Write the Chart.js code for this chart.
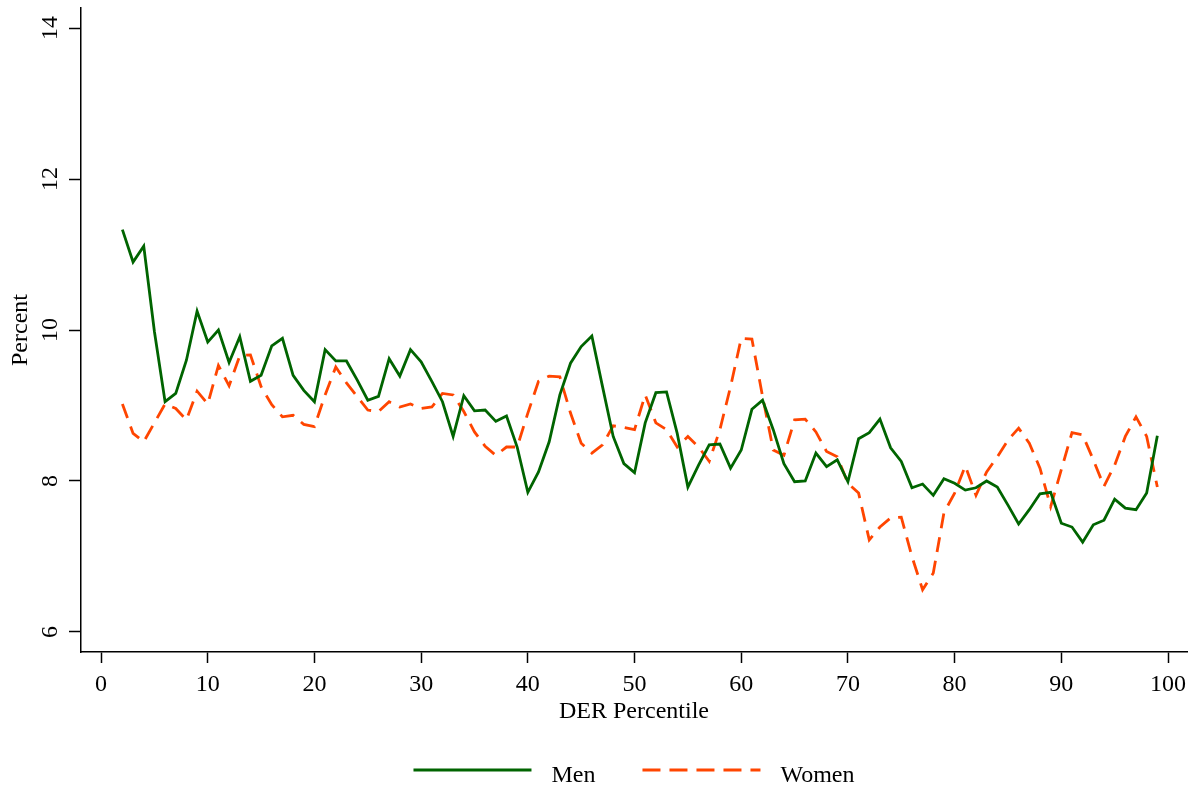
<!DOCTYPE html>
<html>
<head>
<meta charset="utf-8">
<script src="https://cdn.jsdelivr.net/npm/chart.js@4"></script>
<style>
  body { margin: 0; background: #fff; }
  #wrap { width: 1192px; height: 785px; }
</style>
</head>
<body>
<div id="wrap"><canvas id="chartDer" width="1192" height="785"></canvas></div>
<script>
// percentiles 2..99
const percentiles = [];
for (let p = 2; p <= 99; p++) percentiles.push(p);

const men = [
  11.33, 10.90, 11.11, 9.98, 9.05, 9.16, 9.60, 10.25, 9.84, 10.00,
  9.57, 9.91, 9.32, 9.40, 9.79, 9.89, 9.40, 9.20, 9.05, 9.74,
  9.59, 9.59, 9.34, 9.07, 9.12, 9.62, 9.39, 9.74, 9.58, 9.32,
  9.05, 8.59, 9.13, 8.93, 8.94, 8.79, 8.86, 8.45, 7.85, 8.12,
  8.52, 9.14, 9.56, 9.78, 9.92, 9.25, 8.59, 8.23, 8.11, 8.77,
  9.17, 9.18, 8.63, 7.92, 8.21, 8.48, 8.49, 8.17, 8.41, 8.95,
  9.07, 8.68, 8.23, 7.99, 8.00, 8.37, 8.19, 8.28, 7.99, 8.56,
  8.64, 8.82, 8.44, 8.26, 7.91, 7.96, 7.81, 8.03, 7.97, 7.88,
  7.91, 8.00, 7.92, 7.68, 7.43, 7.62, 7.83, 7.85, 7.44, 7.39,
  7.19, 7.42, 7.48, 7.76, 7.64, 7.62, 7.84, 8.60
];

const women = [
  9.02, 8.63, 8.52, 8.77, 9.02, 8.96, 8.81, 9.19, 9.02, 9.53,
  9.26, 9.66, 9.67, 9.25, 9.01, 8.85, 8.87, 8.75, 8.72, 9.14,
  9.51, 9.30, 9.12, 8.94, 8.92, 9.05, 8.98, 9.02, 8.96, 8.98,
  9.16, 9.14, 8.92, 8.65, 8.46, 8.34, 8.45, 8.45, 8.90, 9.32,
  9.39, 9.38, 8.90, 8.50, 8.37, 8.48, 8.73, 8.71, 8.68, 9.14,
  8.77, 8.68, 8.45, 8.59, 8.45, 8.26, 8.68, 9.25, 9.89, 9.88,
  9.12, 8.41, 8.34, 8.81, 8.82, 8.65, 8.39, 8.32, 7.97, 7.84,
  7.22, 7.39, 7.51, 7.52, 7.00, 6.56, 6.78, 7.58, 7.84, 8.20,
  7.81, 8.12, 8.32, 8.54, 8.70, 8.50, 8.17, 7.66, 8.15, 8.64,
  8.61, 8.28, 7.93, 8.21, 8.59, 8.85, 8.59, 7.92
];

const xTicks = [0, 10, 20, 30, 40, 50, 60, 70, 80, 90, 100];
const yTicks = [6, 8, 10, 12, 14];

const serif = '"Liberation Serif", "Times New Roman", serif';
const verde = 'rgb(0, 100, 0)';
const naranja = 'rgb(255, 69, 0)';

// leyenda dibujada a mano (linea + texto), centrada en el area del grafico
const leyenda = {
  id: 'leyenda',
  afterDraw(chart) {
    const ctx = chart.ctx;
    const area = chart.chartArea;
    const largo = 118, hueco = 20, entre = 47, y = 770;
    ctx.save();
    ctx.font = '24px ' + serif;
    const items = chart.data.datasets.map(ds => ({
      texto: ds.label, color: ds.borderColor, dash: ds.legendDash || [],
      ancho: ctx.measureText(ds.label).width
    }));
    let total = items.reduce((s, it) => s + largo + hueco + it.ancho, 0) + entre * (items.length - 1);
    let x = (area.left + area.right) / 2 - total / 2;
    items.forEach(it => {
      ctx.strokeStyle = it.color;
      ctx.lineWidth = 3;
      ctx.setLineDash(it.dash);
      ctx.beginPath();
      ctx.moveTo(x, y);
      ctx.lineTo(x + largo, y);
      ctx.stroke();
      ctx.setLineDash([]);
      ctx.fillStyle = '#000';
      ctx.textBaseline = 'alphabetic';
      ctx.fillText(it.texto, x + largo + hueco, y + 12);
      x += largo + hueco + it.ancho + entre;
    });
    ctx.restore();
  }
};

const ctx = document.getElementById('chartDer').getContext('2d');
new Chart(ctx, {
  type: 'line',
  data: {
    datasets: [
      {
        label: 'Men',
        data: percentiles.map((p, i) => ({ x: p, y: men[i] })),
        borderColor: verde,
        borderWidth: 2.8,
        pointRadius: 0,
        tension: 0,
        fill: false
      },
      {
        label: 'Women',
        data: percentiles.map((p, i) => ({ x: p, y: women[i] })),
        borderColor: naranja,
        borderWidth: 2.8,
        borderDash: [15, 9],
        legendDash: [18, 9],
        pointRadius: 0,
        tension: 0,
        fill: false
      }
    ]
  },
  options: {
    responsive: false,
    animation: false,
    layout: { padding: { top: 8, bottom: 59, right: 5, left: 0 } },
    plugins: {
      legend: { display: false },
      tooltip: { enabled: false }
    },
    scales: {
      x: {
        type: 'linear',
        min: -1.88,
        max: 101.78,
        afterBuildTicks: s => { s.ticks = xTicks.map(v => ({ value: v })); },
        afterFit: s => { s.height = 74; s.paddingLeft = 0; s.paddingRight = 0; },
        border: { display: true, color: '#000', width: 1.5 },
        grid: { drawOnChartArea: false, drawTicks: true, tickLength: 11, tickColor: '#000', tickWidth: 1.5 },
        ticks: { color: '#000', font: { family: serif, size: 24 }, padding: 7, maxRotation: 0, autoSkip: false },
        title: { display: true, text: 'DER Percentile', color: '#000', font: { family: serif, size: 24 }, padding: 0 }
      },
      y: {
        min: 5.735,
        max: 14.265,
        afterBuildTicks: s => { s.ticks = yTicks.map(v => ({ value: v })); },
        afterFit: s => { s.width = 81; s.paddingTop = 0; s.paddingBottom = 0; },
        border: { display: true, color: '#000', width: 1.5 },
        grid: { drawOnChartArea: false, drawTicks: true, tickLength: 12, tickColor: '#000', tickWidth: 1.5 },
        ticks: { color: '#000', font: { family: serif, size: 24 }, padding: 6, minRotation: 90, maxRotation: 90, crossAlign: 'center' },
        title: { display: true, text: 'Percent', color: '#000', font: { family: serif, size: 24 }, padding: { top: 6, bottom: 0 } }
      }
    }
  },
  plugins: [leyenda]
});
</script>
</body>
</html>
